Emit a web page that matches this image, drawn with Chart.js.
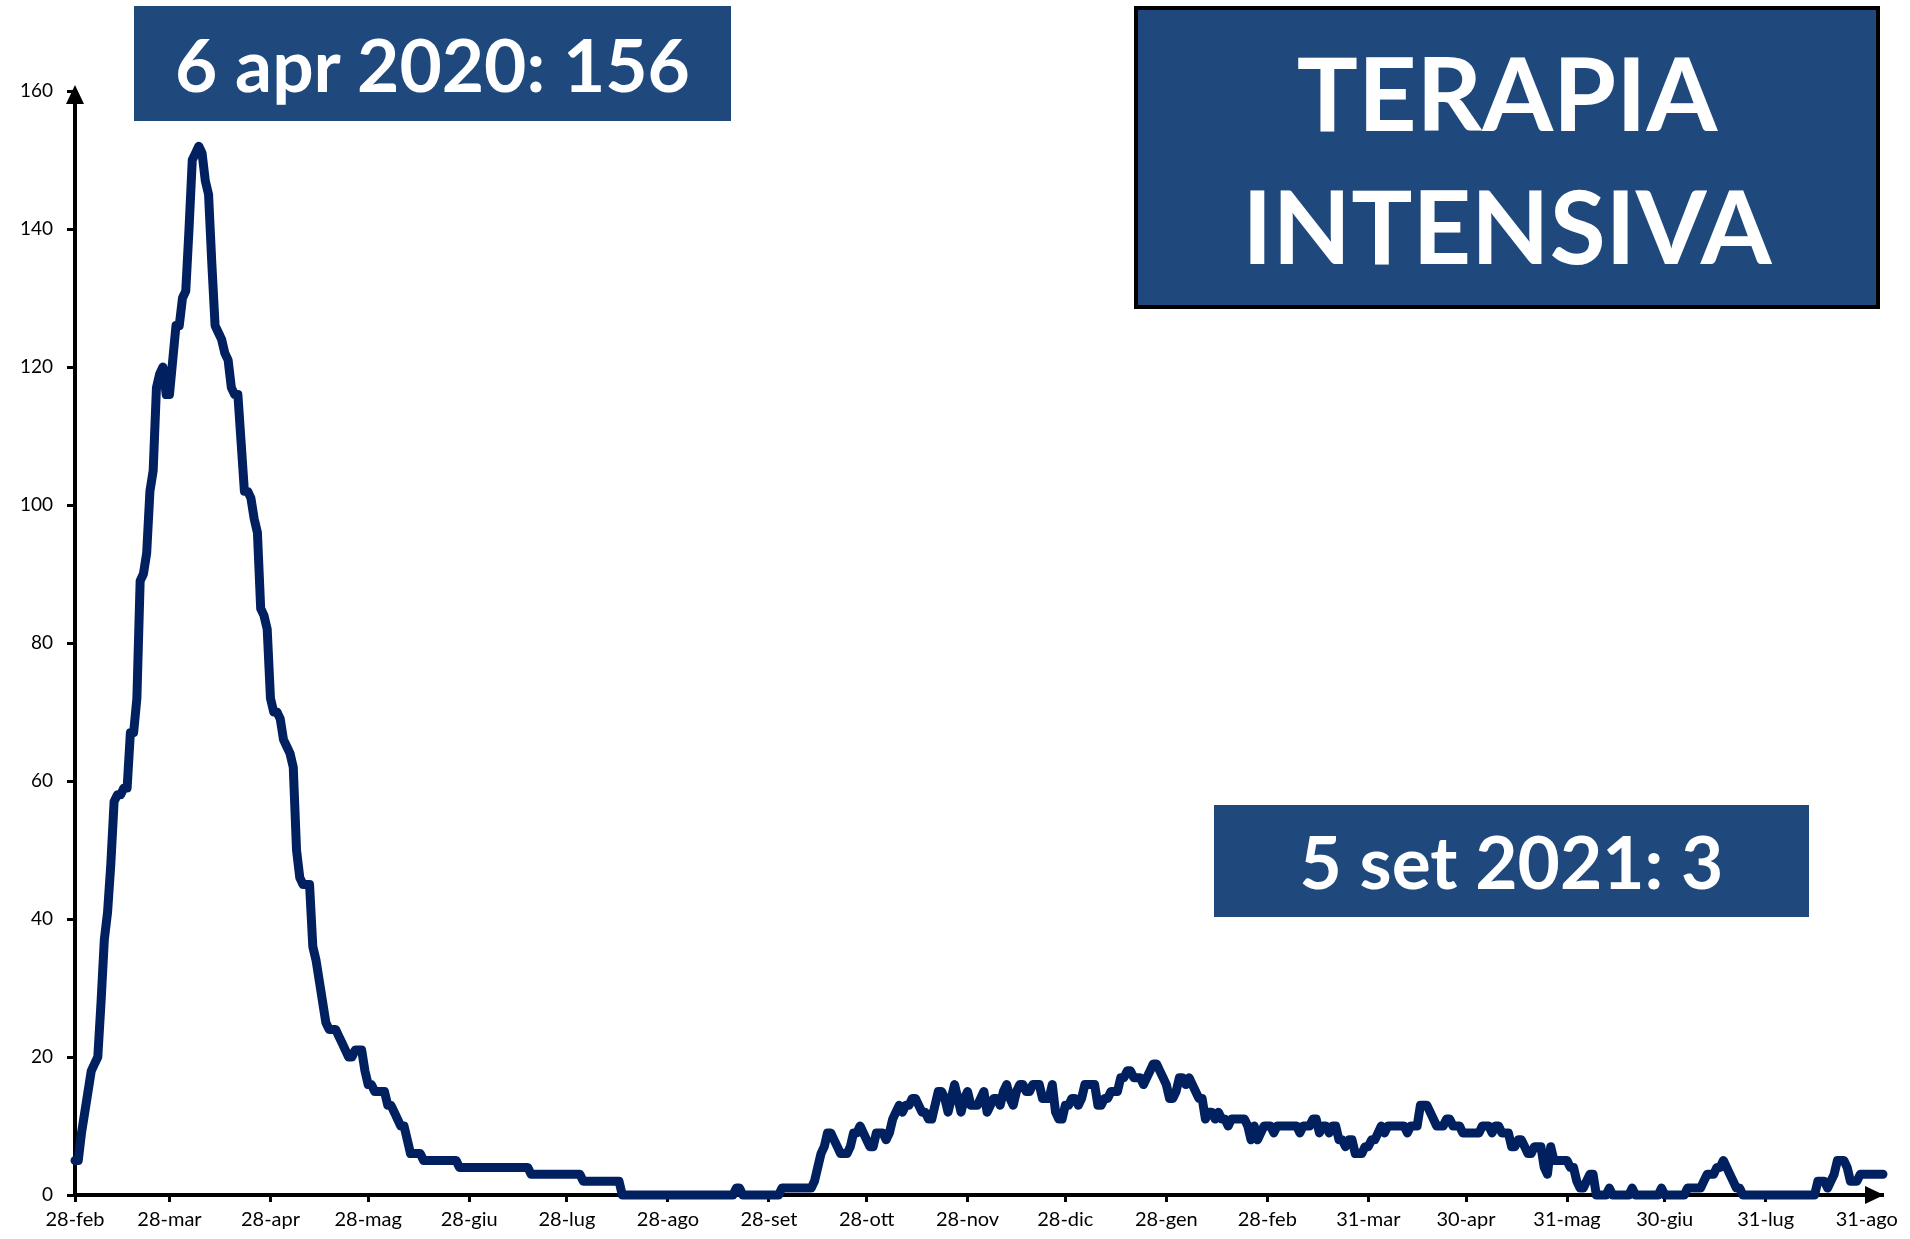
<!DOCTYPE html>
<html lang="it">
<head>
<meta charset="utf-8">
<title>Terapia intensiva</title>
<script src="https://cdn.jsdelivr.net/npm/chart.js"></script>
<style>
  html, body { margin: 0; padding: 0; background: #fff; }
  #wrap { position: relative; width: 1910px; height: 1239px; overflow: hidden; }
  #chart { position: absolute; left: 0; top: 0; }
  .box {
    position: absolute; box-sizing: border-box;
    background: #1f497d; color: #fff;
    font-family: Lato, "Open Sans", sans-serif; font-weight: 700;
    display: flex; flex-direction: column; align-items: center; justify-content: center;
    white-space: nowrap;
  }
  #peak { left: 134px; top: 6px; width: 597px; height: 115px; font-size: 73px; }
  #title { left: 1134px; top: 6px; width: 746px; height: 303px; border: 4px solid #000; font-size: 102px; }
  #title div { line-height: 133px; }
  #last { left: 1214px; top: 805px; width: 595px; height: 112px; font-size: 73px; }
</style>
</head>
<body>
<div id="wrap">
  <canvas id="chart" width="1910" height="1239"></canvas>
  <div class="box" id="peak">6 apr 2020: 156</div>
  <div class="box" id="title"><div>TERAPIA</div><div>INTENSIVA</div></div>
  <div class="box" id="last">5 set 2021: 3</div>
</div>
<script>
// one value per day, day 0 = 28 feb 2020, last = 5 set 2021
const icuPatients = [
  5, 5, 9, 12, 15, 18, 19, 20, 28, 37,
  41, 48, 57, 58, 58, 59, 59, 67, 67, 72,
  89, 90, 93, 102, 105, 117, 119, 120, 116, 116,
  121, 126, 126, 130, 131, 140, 150, 151, 152, 151,
  147, 145, 135, 126, 125, 124, 122, 121, 117, 116,
  116, 109, 102, 102, 101, 98, 96, 85, 84, 82,
  72, 70, 70, 69, 66, 65, 64, 62, 50, 46,
  45, 45, 45, 36, 34, 31, 28, 25, 24, 24,
  24, 23, 22, 21, 20, 20, 21, 21, 21, 18,
  16, 16, 15, 15, 15, 15, 13, 13, 12, 11,
  10, 10, 8, 6, 6, 6, 6, 5, 5, 5,
  5, 5, 5, 5, 5, 5, 5, 5, 4, 4,
  4, 4, 4, 4, 4, 4, 4, 4, 4, 4,
  4, 4, 4, 4, 4, 4, 4, 4, 4, 4,
  3, 3, 3, 3, 3, 3, 3, 3, 3, 3,
  3, 3, 3, 3, 3, 3, 2, 2, 2, 2,
  2, 2, 2, 2, 2, 2, 2, 2, 0, 0,
  0, 0, 0, 0, 0, 0, 0, 0, 0, 0,
  0, 0, 0, 0, 0, 0, 0, 0, 0, 0,
  0, 0, 0, 0, 0, 0, 0, 0, 0, 0,
  0, 0, 0, 1, 1, 0, 0, 0, 0, 0,
  0, 0, 0, 0, 0, 0, 0, 1, 1, 1,
  1, 1, 1, 1, 1, 1, 1, 2, 4, 6,
  7, 9, 9, 8, 7, 6, 6, 6, 7, 9,
  9, 10, 9, 8, 7, 7, 9, 9, 9, 8,
  9, 11, 12, 13, 12, 13, 13, 14, 14, 13,
  12, 12, 11, 11, 13, 15, 15, 14, 12, 14,
  16, 14, 12, 14, 15, 13, 13, 13, 14, 15,
  12, 13, 14, 14, 13, 15, 16, 14, 13, 15,
  16, 16, 15, 15, 16, 16, 16, 14, 14, 14,
  16, 12, 11, 11, 13, 13, 14, 14, 13, 14,
  16, 16, 16, 16, 13, 13, 14, 14, 15, 15,
  15, 17, 17, 18, 18, 17, 17, 17, 16, 17,
  18, 19, 19, 18, 17, 16, 14, 14, 15, 17,
  17, 16, 17, 16, 15, 14, 14, 11, 12, 12,
  11, 12, 11, 11, 10, 11, 11, 11, 11, 11,
  10, 8, 10, 8, 9, 10, 10, 10, 9, 10,
  10, 10, 10, 10, 10, 10, 9, 10, 10, 10,
  11, 11, 9, 10, 10, 9, 10, 10, 8, 8,
  7, 8, 8, 6, 6, 6, 7, 7, 8, 8,
  9, 10, 9, 10, 10, 10, 10, 10, 10, 9,
  10, 10, 10, 13, 13, 13, 12, 11, 10, 10,
  10, 11, 11, 10, 10, 10, 9, 9, 9, 9,
  9, 9, 10, 10, 10, 9, 10, 10, 9, 9,
  9, 7, 7, 8, 8, 7, 6, 6, 7, 7,
  7, 4, 3, 7, 5, 5, 5, 5, 5, 4,
  4, 2, 1, 1, 2, 3, 3, 0, 0, 0,
  0, 1, 0, 0, 0, 0, 0, 0, 1, 0,
  0, 0, 0, 0, 0, 0, 0, 1, 0, 0,
  0, 0, 0, 0, 0, 1, 1, 1, 1, 1,
  2, 3, 3, 3, 4, 4, 5, 4, 3, 2,
  1, 1, 0, 0, 0, 0, 0, 0, 0, 0,
  0, 0, 0, 0, 0, 0, 0, 0, 0, 0,
  0, 0, 0, 0, 0, 2, 2, 2, 1, 2,
  3, 5, 5, 5, 4, 2, 2, 2, 3, 3,
  3, 3, 3, 3, 3, 3
];

// x axis ticks: day index and label
const tickDays = [0, 29, 60, 90, 121, 151, 182, 213, 243, 274, 304, 335, 366, 397, 427, 458, 488, 519, 550];
const tickLabels = ['28-feb', '28-mar', '28-apr', '28-mag', '28-giu', '28-lug', '28-ago', '28-set', '28-ott',
  '28-nov', '28-dic', '28-gen', '28-feb', '31-mar', '30-apr', '31-mag', '30-giu', '31-lug', '31-ago'];
const yMax = 160;
const yStep = 20;

const lineColor = '#002060';

// arrow heads at the end of both axes
const axisArrows = {
  id: 'axisArrows',
  afterDraw(chart) {
    const { ctx, chartArea: a } = chart;
    ctx.save();
    ctx.fillStyle = '#000';
    ctx.beginPath();
    ctx.moveTo(a.left, a.top - 6);
    ctx.lineTo(a.left - 9, a.top + 13);
    ctx.lineTo(a.left + 9, a.top + 13);
    ctx.closePath();
    ctx.fill();
    ctx.beginPath();
    ctx.moveTo(a.right + 1, a.bottom);
    ctx.lineTo(a.right - 18, a.bottom - 9);
    ctx.lineTo(a.right - 18, a.bottom + 9);
    ctx.closePath();
    ctx.fill();
    ctx.restore();
  }
};

Chart.defaults.font.family = 'Lato, "Open Sans", sans-serif';
Chart.defaults.color = '#000';

new Chart(document.getElementById('chart'), {
  type: 'line',
  data: {
    datasets: [{
      data: icuPatients.map((v, i) => ({ x: i, y: v })),
      borderColor: lineColor,
      borderWidth: 9,
      borderJoinStyle: 'round',
      borderCapStyle: 'round',
      pointRadius: 0,
      tension: 0,
      clip: false
    }]
  },
  options: {
    responsive: false,
    animation: false,
    layout: { padding: { top: 91, right: 27, left: 0, bottom: 0 } },
    plugins: { legend: { display: false }, tooltip: { enabled: false } },
    scales: {
      x: {
        type: 'linear',
        min: 0,
        max: icuPatients.length - 1,
        afterBuildTicks: s => { s.ticks = tickDays.map(v => ({ value: v })); },
        afterFit: s => { s.height = 44; },
        border: { color: '#000', width: 4 },
        grid: { drawOnChartArea: false, tickLength: 7, tickWidth: 3, tickColor: '#000' },
        ticks: {
          autoSkip: false, maxRotation: 0, padding: 6,
          font: { size: 20 },
          callback: (v, i) => tickLabels[i]
        }
      },
      y: {
        min: 0,
        max: yMax,
        afterFit: s => { s.width = 75; },
        border: { color: '#000', width: 4 },
        grid: { drawOnChartArea: false, tickLength: 8, tickWidth: 3, tickColor: '#000' },
        ticks: { stepSize: yStep, padding: 14, font: { size: 19 } }
      }
    }
  },
  plugins: [axisArrows]
});
</script>
</body>
</html>
